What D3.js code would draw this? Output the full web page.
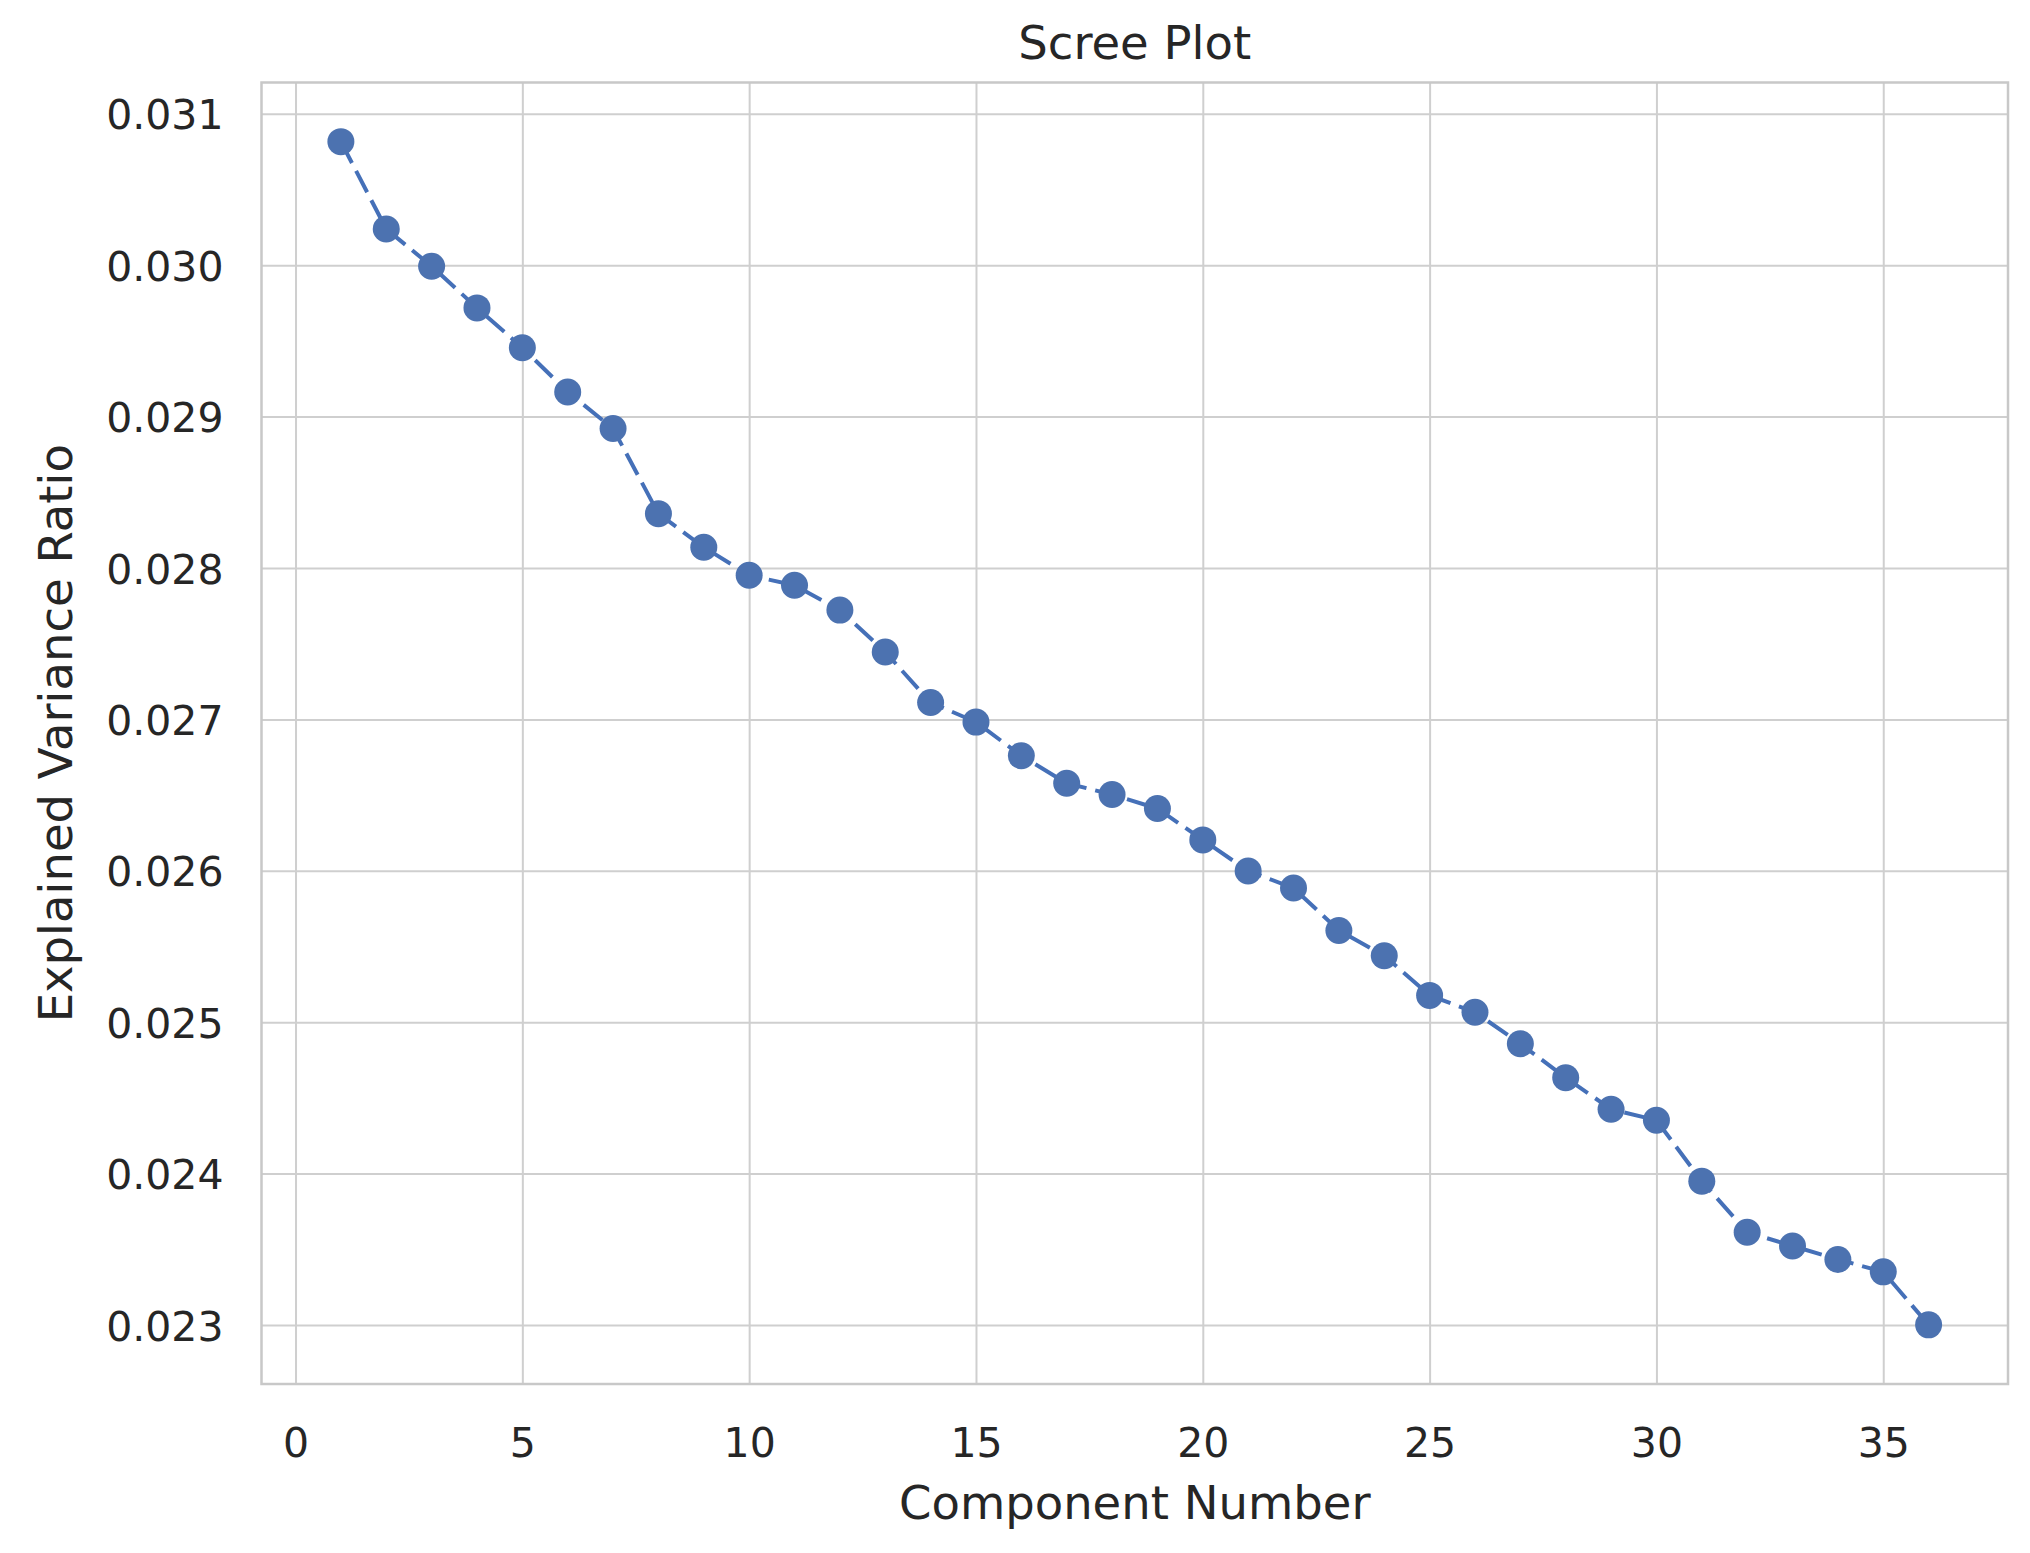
<!DOCTYPE html>
<html>
<head>
<meta charset="utf-8">
<script src="https://cdn.jsdelivr.net/npm/d3@7"></script>
<style>
  body { margin: 0; background: #fff; }
  text { font-family: "DejaVu Sans", sans-serif; fill: #262626; }
</style>
</head>
<body>
<svg id="chart"></svg>
<script>
// component numbers and explained variance ratio
var components = [1, 2, 3, 4, 5, 6, 7, 8, 9, 10, 11, 12, 13, 14, 15, 16, 17, 18,
  19, 20, 21, 22, 23, 24, 25, 26, 27, 28, 29, 30, 31, 32, 33, 34, 35, 36];
var ratios = [0.030816, 0.030239, 0.029993, 0.029718, 0.029455, 0.029163,
  0.028921, 0.028359, 0.028137, 0.027952, 0.027886, 0.027722, 0.027445,
  0.027112, 0.026982, 0.026760, 0.026578, 0.026504, 0.026411, 0.026204,
  0.025999, 0.025886, 0.025606, 0.025439, 0.025177, 0.025066, 0.024858,
  0.024633, 0.024425, 0.024352, 0.023950, 0.023613, 0.023522, 0.023433,
  0.023351, 0.023001];
var xTicks = [0, 5, 10, 15, 20, 25, 30, 35];
var yTicks = [0.023, 0.024, 0.025, 0.026, 0.027, 0.028, 0.029, 0.030, 0.031];

var margin = { top: 82.5, right: 22, bottom: 169, left: 261.5 },
  width = 2030 - margin.left - margin.right,
  height = 1553 - margin.top - margin.bottom;

var svg = d3
  .select("#chart")
  .attr("width", 2030)
  .attr("height", 1553);

var g = svg
  .append("g")
  .attr("transform", "translate(" + margin.left + "," + margin.top + ")");

var data = components.map((c, i) => ({ c: c, v: ratios[i] }));

// matplotlib style 5% margins
var xr = d3.extent(components), yr = d3.extent(ratios);
var xp = (xr[1] - xr[0]) * 0.05, yp = (yr[1] - yr[0]) * 0.05;
var x = d3.scaleLinear().domain([xr[0] - xp, xr[1] + xp]).range([0, width]);
var y = d3.scaleLinear().domain([yr[0] - yp, yr[1] + yp]).range([height, 0]);

// grid + x axis
var gx = g
  .append("g")
  .attr("transform", "translate(0," + height + ")")
  .call(d3.axisBottom(x).tickValues(xTicks).tickSize(-height).tickSizeOuter(0).tickPadding(0));
gx.select(".domain").remove();
gx.selectAll("line").attr("stroke", "#cfcfcf").attr("stroke-width", 2);
gx.selectAll("text")
  .attr("y", 73)
  .attr("dy", 0)
  .style("font-size", "41px");

var gy = g
  .append("g")
  .call(d3.axisLeft(y).tickValues(yTicks).tickFormat(d3.format(".3f")).tickSize(-width).tickSizeOuter(0));
gy.select(".domain").remove();
gy.selectAll("line").attr("stroke", "#cfcfcf").attr("stroke-width", 2);
gy.selectAll("text")
  .attr("x", -38)
  .attr("dy", "0.37em")
  .style("font-size", "41px");

// frame
g.append("rect")
  .attr("width", width)
  .attr("height", height)
  .attr("fill", "none")
  .attr("stroke", "#c8c8c8")
  .attr("stroke-width", 2.5);

// dashed line
var line = d3.line().x((d) => x(d.c)).y((d) => y(d.v));
g.append("path")
  .datum(data)
  .attr("d", line)
  .attr("fill", "none")
  .attr("stroke", "#4570b8")
  .attr("stroke-width", 4)
  .attr("stroke-dasharray", "24,9");

g.selectAll("circle")
  .data(data)
  .enter()
  .append("circle")
  .attr("r", 13.5)
  .attr("cx", (d) => x(d.c))
  .attr("cy", (d) => y(d.v))
  .style("fill", "#4c72b0");

// titles
g.append("text")
  .attr("x", width / 2)
  .attr("y", -24)
  .attr("text-anchor", "middle")
  .style("font-size", "46.5px")
  .text("Scree Plot");

g.append("text")
  .attr("x", width / 2)
  .attr("y", height + 135)
  .attr("text-anchor", "middle")
  .style("font-size", "46.5px")
  .text("Component Number");

g.append("text")
  .attr("transform", "translate(" + (72 - margin.left) + "," + height / 2 + ") rotate(-90)")
  .attr("text-anchor", "middle")
  .style("font-size", "46.5px")
  .text("Explained Variance Ratio");
</script>
</body>
</html>
